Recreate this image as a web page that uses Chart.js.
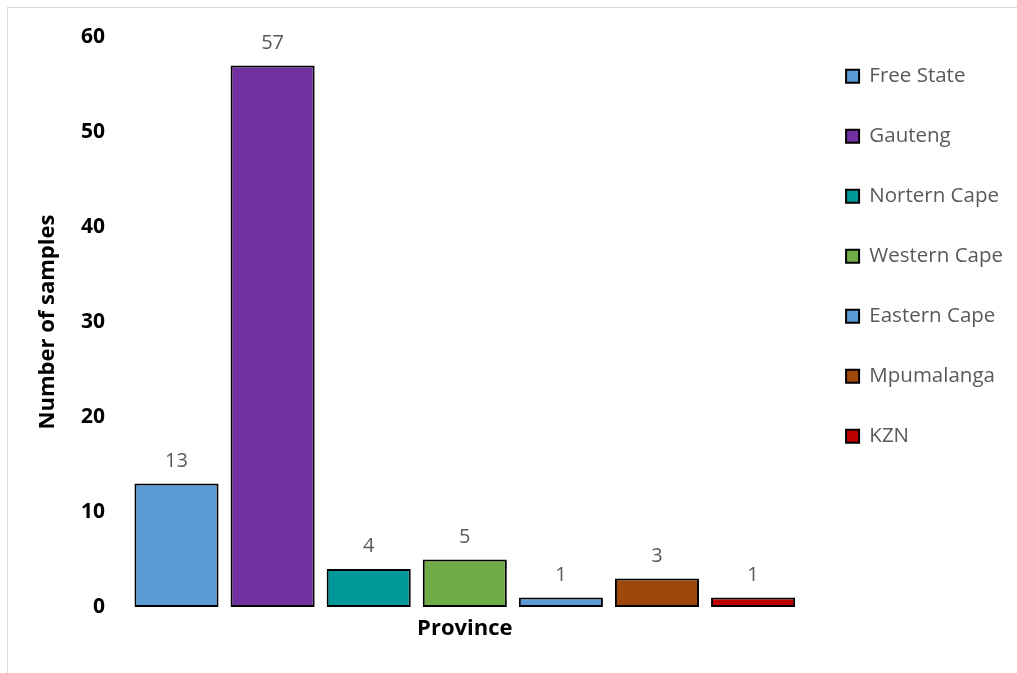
<!DOCTYPE html>
<html>
<head>
<meta charset="utf-8">
<script src="https://cdn.jsdelivr.net/npm/chart.js@4/dist/chart.umd.min.js"></script>
<style>
  html, body { margin: 0; padding: 0; overflow: hidden; background: #fff; }
  #frame { position: absolute; left: 7px; top: 7px; width: 1100px; height: 800px; border: 1px solid #d9d9d9; }
  #wrap { position: absolute; left: 0; top: 0; width: 1017px; height: 673px; }
</style>
</head>
<body>
<div id="frame"></div>
<div id="wrap"><canvas id="c" width="1017" height="673"></canvas></div>
<script>
const provinces = ['Free State', 'Gauteng', 'Nortern Cape', 'Western Cape', 'Eastern Cape', 'Mpumalanga', 'KZN'];
const samples = [13, 57, 4, 5, 1, 3, 1];
const colors = ['#5B9BD5', '#7030A0', '#009999', '#70AD47', '#5B9BD5', '#9E480E', '#C00000'];
const yTicks = [0, 10, 20, 30, 40, 50, 60];

const FONT = "'Open Sans', 'DejaVu Sans', sans-serif";

const valueLabels = {
  id: 'valueLabels',
  afterDatasetsDraw(chart) {
    const ctx = chart.ctx;
    ctx.save();
    ctx.font = '20px ' + FONT;
    ctx.fillStyle = '#595959';
    ctx.textAlign = 'center';
    ctx.textBaseline = 'alphabetic';
    chart.data.datasets.forEach((ds, i) => {
      const meta = chart.getDatasetMeta(i);
      meta.data.forEach((bar, j) => {
        ctx.fillText(String(ds.data[j]), bar.x, bar.y - 17);
      });
    });
    ctx.restore();
  }
};

const legendShift = {
  id: 'legendShift',
  afterLayout(chart) {
    if (chart.legend) {
      chart.legend.top -= 10.5;
      chart.legend.bottom -= 10.5;
    }
  }
};

new Chart(document.getElementById('c'), {
  type: 'bar',
  data: {
    labels: [''],
    datasets: provinces.map((p, i) => ({
      label: p,
      data: [samples[i]],
      backgroundColor: colors[i],
      borderColor: '#000000',
      borderWidth: 2,
      borderSkipped: false,
      barPercentage: 0.875,
      categoryPercentage: 0.984
    }))
  },
  options: {
    responsive: false,
    animation: false,
    devicePixelRatio: 1,
    layout: { padding: { top: 37, bottom: 31, left: 0, right: 4 } },
    plugins: {
      legend: {
        position: 'right',
        align: 'start',
        labels: {
          font: { family: FONT, size: 20.5 },
          color: '#595959',
          boxWidth: 13,
          boxHeight: 13,
          padding: 39.5
        }
      },
      tooltip: { enabled: false }
    },
    scales: {
      x: {
        afterFit(scale) { scale.height = 35; },
        grid: { display: false },
        border: { display: false },
        ticks: { display: false },
        title: {
          display: true,
          text: 'Province',
          color: '#000',
          font: { family: FONT, size: 22, weight: 'bold' },
          padding: { top: 11, bottom: 0 }
        }
      },
      y: {
        min: 0,
        max: 60,
        afterBuildTicks(scale) { scale.ticks = yTicks.map(v => ({ value: v })); },
        afterFit(scale) { scale.width = 123; },
        grid: { display: false },
        border: { display: false },
        ticks: {
          color: '#000',
          font: { family: FONT, size: 21, weight: 'bold' },
          padding: 10
        },
        title: {
          display: true,
          text: 'Number of samples',
          color: '#000',
          font: { family: FONT, size: 22, weight: 'bold' },
          padding: { top: 35, bottom: 0 }
        }
      }
    }
  },
  plugins: [valueLabels, legendShift]
});
</script>
</body>
</html>
